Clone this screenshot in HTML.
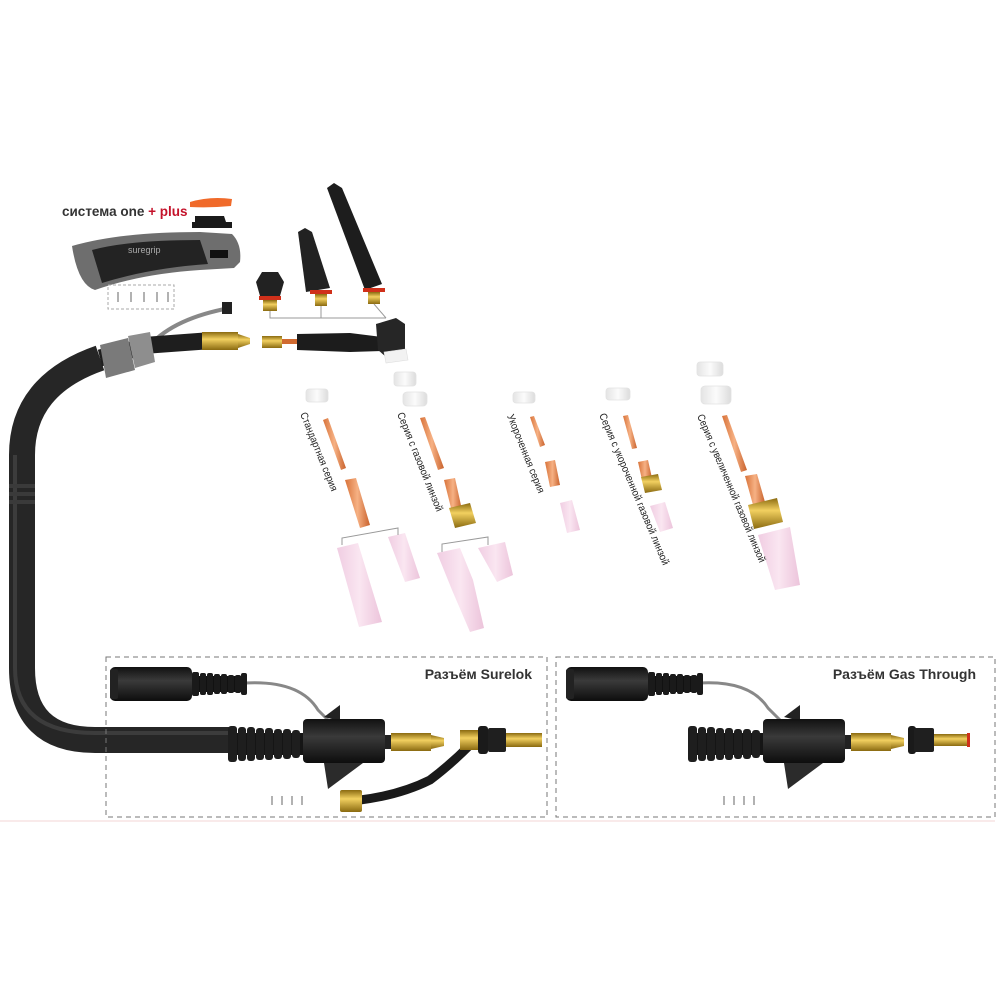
<!DOCTYPE html>
<html><head><meta charset="utf-8"><style>
html,body{margin:0;padding:0;background:#fff;}
svg{display:block}
text{font-family:"Liberation Sans","DejaVu Sans",sans-serif;}
</style></head><body>
<svg width="1000" height="1000" viewBox="0 0 1000 1000" xmlns="http://www.w3.org/2000/svg">
<defs>
<linearGradient id="brass" x1="0" y1="0" x2="0" y2="1"><stop offset="0" stop-color="#8a6a10"/><stop offset=".4" stop-color="#f2d060"/><stop offset="1" stop-color="#8a6a10"/></linearGradient>
<linearGradient id="blk" x1="0" y1="0" x2="0" y2="1"><stop offset="0" stop-color="#111"/><stop offset=".4" stop-color="#3a3a3a"/><stop offset="1" stop-color="#0d0d0d"/></linearGradient>
<linearGradient id="cop" x1="0" y1="0" x2="1" y2="0"><stop offset="0" stop-color="#d8733a"/><stop offset=".5" stop-color="#f6b184"/><stop offset="1" stop-color="#c9622c"/></linearGradient>
<linearGradient id="pink" x1="0" y1="0" x2="1" y2="0"><stop offset="0" stop-color="#f0cde2"/><stop offset=".5" stop-color="#fae6f1"/><stop offset="1" stop-color="#ecc4db"/></linearGradient>
<linearGradient id="wht" x1="0" y1="0" x2="1" y2="0"><stop offset="0" stop-color="#e4e4e4"/><stop offset=".5" stop-color="#fbfbfb"/><stop offset="1" stop-color="#dcdcdc"/></linearGradient>
<g id="plug">
 <rect x="0" y="0" width="82" height="34" rx="5" fill="url(#blk)"/>
 <rect x="0" y="2" width="8" height="30" rx="2" fill="#222"/>
 <rect x="84" y="9" width="52" height="16" fill="#111"/>
 <g fill="#1a1a1a"><rect x="82" y="5" width="7" height="24" rx="2"/><rect x="90" y="6" width="6" height="22" rx="2"/><rect x="97" y="6" width="6" height="22" rx="2"/><rect x="104" y="7" width="6" height="20" rx="2"/><rect x="111" y="7" width="6" height="20" rx="2"/><rect x="118" y="8" width="6" height="18" rx="2"/><rect x="125" y="8" width="6" height="18" rx="2"/><rect x="131" y="6" width="6" height="22" rx="2"/></g>
</g>
<g id="main">
 <path d="M96 -10 L112 -22 L112 -6 Z" fill="#222"/>
 <path d="M96 36 L135 36 L100 62 Z" fill="#2b2b2b"/>
 <rect x="0" y="6" width="78" height="22" fill="#151515"/>
 <g fill="#1e1e1e"><rect x="0" y="-1" width="9" height="36" rx="3"/><rect x="10" y="0" width="8" height="34" rx="3"/><rect x="19" y="0" width="8" height="34" rx="3"/><rect x="28" y="1" width="8" height="32" rx="3"/><rect x="37" y="1" width="8" height="32" rx="3"/><rect x="46" y="2" width="8" height="30" rx="3"/><rect x="55" y="2" width="8" height="30" rx="3"/><rect x="64" y="3" width="8" height="28" rx="3"/></g>
 <rect x="75" y="-8" width="82" height="44" rx="4" fill="url(#blk)"/>
 <rect x="157" y="8" width="6" height="14" fill="#222"/>
 <rect x="163" y="6" width="40" height="18" fill="url(#brass)"/>
 <path d="M203 8 L216 11 L216 19 L203 22 Z" fill="url(#brass)"/>
</g>
</defs>

<!-- main cable -->
<path d="M232 740 L95 740 Q22 740 22 668 L22 455 Q22 385 100 358" fill="none" stroke="#262626" stroke-width="26"/>
<path d="M232 733 L95 733 Q15 733 15 668 L15 455" fill="none" stroke="#3c3c3c" stroke-width="4"/>
<g fill="#3a3a3a"><rect x="9" y="484" width="26" height="4"/><rect x="9" y="492" width="26" height="4"/><rect x="9" y="500" width="26" height="4"/></g>
<path d="M150 345 Q175 318 230 308" fill="none" stroke="#888" stroke-width="4"/>
<rect x="222" y="302" width="10" height="12" fill="#222"/>
<path d="M100 358 L150 345 L205 341" fill="none" stroke="#1e1e1e" stroke-width="17"/>
<path d="M100 345 L128 338 L135 370 L106 378 Z" fill="#7a7a7a"/>
<path d="M128 336 L150 332 L155 362 L135 368 Z" fill="#8e8e8e"/>
<rect x="202" y="332" width="36" height="18" fill="url(#brass)"/>
<path d="M238 334 L250 338 L250 344 L238 348 Z" fill="url(#brass)"/>

<!-- handle -->
<text x="62" y="216" font-size="13.5" font-weight="bold" fill="#333">система one <tspan fill="#c4122a">+ plus</tspan></text>
<path d="M190 202 Q210 196 232 199 L231 206 Q210 208 190 207 Z" fill="#f06a2a"/>
<path d="M195 216 L224 216 L226 222 L232 222 L232 228 L192 228 L192 222 L195 222 Z" fill="#1a1a1a"/>
<path d="M72 246 Q120 232 200 232 L232 234 Q242 244 240 262 L234 268 L200 270 Q140 274 95 290 Q78 285 72 246 Z" fill="#6e6e6e"/>
<path d="M92 250 Q130 240 200 240 L208 264 Q150 268 102 283 Z" fill="#232323"/>
<text x="128" y="253" font-size="9" fill="#aaa">suregrip</text>
<rect x="210" y="250" width="18" height="8" fill="#111"/>
<rect x="108" y="285" width="66" height="24" fill="none" stroke="#aaa" stroke-dasharray="3 2" stroke-width="1"/>
<g stroke="#999" stroke-width="1.5"><line x1="118" y1="292" x2="118" y2="302"/><line x1="131" y1="292" x2="131" y2="302"/><line x1="144" y1="292" x2="144" y2="302"/><line x1="157" y1="292" x2="157" y2="302"/><line x1="168" y1="292" x2="168" y2="302"/></g>

<!-- back caps -->
<path d="M256 282 L262 272 L278 272 L284 282 L280 296 L260 296 Z" fill="#222"/>
<rect x="259" y="296" width="22" height="4" fill="#d0301a"/>
<rect x="263" y="300" width="14" height="11" fill="url(#brass)"/>
<path d="M298 232 L305 228 L312 232 L330 288 L306 292 Z" fill="#222"/>
<rect x="310" y="290" width="22" height="4" fill="#d0301a"/>
<rect x="315" y="294" width="12" height="12" fill="url(#brass)"/>
<path d="M327 188 L334 183 L342 188 L382 284 L365 290 Z" fill="#1d1d1d"/>
<rect x="363" y="288" width="22" height="4" fill="#d0301a"/>
<rect x="368" y="292" width="12" height="12" fill="url(#brass)"/>
<g stroke="#999" stroke-width="1" fill="none"><path d="M270 311 L270 318 L386 318"/><path d="M321 306 L321 318"/><path d="M374 304 L386 318"/></g>

<!-- torch body -->
<rect x="262" y="336" width="20" height="12" fill="url(#brass)"/>
<rect x="282" y="339" width="16" height="5" fill="#d06a30"/>
<path d="M297 334 L350 333 L382 337 L382 351 L350 352 L297 350 Z" fill="#1c1c1c"/>
<path d="M376 324 L396 318 L405 324 L405 352 L385 356 L378 350 Z" fill="#262626"/>
<path d="M384 352 L406 349 L408 360 L386 363 Z" fill="#f2f2f2" stroke="#ddd" stroke-width=".6"/>

<!-- consumables -->
<g fill="url(#wht)" stroke="#e2e2e2" stroke-width=".8">
<rect x="306" y="389" width="22" height="13" rx="3"/>
<rect x="394" y="372" width="22" height="14" rx="3"/>
<rect x="403" y="392" width="24" height="14" rx="4"/>
<rect x="513" y="392" width="22" height="11" rx="3"/>
<rect x="606" y="388" width="24" height="12" rx="3"/>
<rect x="697" y="362" width="26" height="14" rx="3"/>
<rect x="701" y="386" width="30" height="18" rx="4"/>
</g>
<g fill="url(#cop)">
<path d="M323 420 L328 418 L346 468 L341 470 Z"/>
<path d="M420 418 L425 417 L444 468 L438 470 Z"/>
<path d="M530 417 L534 416 L545 445 L540 447 Z"/>
<path d="M623 416 L628 415 L637 448 L632 449 Z"/>
<path d="M722 416 L727 415 L747 470 L741 472 Z"/>
<path d="M345 480 L356 478 L370 525 L360 528 Z"/>
<path d="M444 480 L455 478 L462 510 L452 512 Z"/>
<path d="M545 462 L555 460 L560 485 L550 487 Z"/>
<path d="M638 462 L648 460 L652 478 L642 480 Z"/>
<path d="M745 476 L757 474 L765 502 L753 505 Z"/>
</g>
<g fill="url(#brass)">
<path d="M449 508 L470 503 L476 523 L455 528 Z"/>
<path d="M641 477 L658 474 L662 490 L645 493 Z"/>
<path d="M748 505 L777 498 L783 522 L754 529 Z"/>
</g>
<g fill="url(#pink)">
<path d="M337 548 L358 543 L382 622 L359 627 Z"/>
<path d="M388 537 L405 533 L420 578 L405 582 Z"/>
<path d="M437 553 L460 548 L473 580 L484 628 L470 632 L452 590 Z"/>
<path d="M478 548 L505 542 L513 575 L497 582 Z"/>
<path d="M560 503 L572 500 L580 530 L567 533 Z"/>
<path d="M650 506 L665 502 L673 528 L660 532 Z"/>
<path d="M758 535 L790 527 L800 585 L775 590 Z"/>
</g>
<g stroke="#999" stroke-width="1" fill="none">
<path d="M342 545 L342 538 L398 528 L398 535"/>
<path d="M442 552 L442 544 L488 537 L488 545"/>
</g>

<g font-size="10.5" fill="#222">
<text transform="translate(300,414) rotate(68)" textLength="84" lengthAdjust="spacingAndGlyphs">Стандартная серия</text>
<text transform="translate(397,414) rotate(68)" textLength="106" lengthAdjust="spacingAndGlyphs">Серия с газовой линзой</text>
<text transform="translate(507,416) rotate(68)" textLength="84" lengthAdjust="spacingAndGlyphs">Укороченная серия</text>
<text transform="translate(599,415) rotate(67)" textLength="164" lengthAdjust="spacingAndGlyphs">Серия с укороченной газовой линзой</text>
<text transform="translate(697,416) rotate(67)" textLength="160" lengthAdjust="spacingAndGlyphs">Серия с увеличенной газовой линзой</text>
</g>

<rect x="106" y="657" width="441" height="160" fill="none" stroke="#777" stroke-dasharray="5 4"/>
<rect x="556" y="657" width="439" height="160" fill="none" stroke="#777" stroke-dasharray="5 4"/>
<line x1="0" y1="821" x2="995" y2="821" stroke="#f3d6d6" stroke-width="1"/>
<text x="532" y="679" font-size="14" font-weight="bold" fill="#333" text-anchor="end">Разъём Surelok</text>
<text x="976" y="679" font-size="14" font-weight="bold" fill="#333" text-anchor="end">Разъём Gas Through</text>

<!-- Surelok -->
<path d="M245 683 Q300 680 318 710 L328 720" fill="none" stroke="#888" stroke-width="3"/>
<use href="#plug" x="110" y="667"/>
<use href="#main" x="228" y="727"/>
<path d="M470 745 Q450 765 430 780 Q400 795 360 800" fill="none" stroke="#1a1a1a" stroke-width="9"/>
<rect x="340" y="790" width="22" height="22" rx="2" fill="url(#brass)"/>
<rect x="460" y="730" width="20" height="20" fill="url(#brass)"/>
<rect x="478" y="726" width="10" height="28" rx="3" fill="#1a1a1a"/>
<rect x="488" y="728" width="18" height="24" rx="2" fill="#1f1f1f"/>
<rect x="506" y="733" width="36" height="14" fill="url(#brass)"/>
<g stroke="#999" stroke-width="1.5"><line x1="272" y1="796" x2="272" y2="805"/><line x1="282" y1="796" x2="282" y2="805"/><line x1="292" y1="796" x2="292" y2="805"/><line x1="302" y1="796" x2="302" y2="805"/></g>

<!-- Gas Through -->
<path d="M699 683 Q750 680 768 708 L780 720" fill="none" stroke="#888" stroke-width="3"/>
<use href="#plug" x="566" y="667"/>
<use href="#main" x="688" y="727"/>
<rect x="908" y="726" width="8" height="28" rx="3" fill="#1a1a1a"/>
<rect x="914" y="728" width="20" height="24" rx="2" fill="#1f1f1f"/>
<rect x="934" y="734" width="34" height="12" fill="url(#brass)"/>
<rect x="967" y="733" width="3" height="14" fill="#d0301a"/>
<g stroke="#999" stroke-width="1.5"><line x1="724" y1="796" x2="724" y2="805"/><line x1="734" y1="796" x2="734" y2="805"/><line x1="744" y1="796" x2="744" y2="805"/><line x1="754" y1="796" x2="754" y2="805"/></g>
</svg>
</body></html>
